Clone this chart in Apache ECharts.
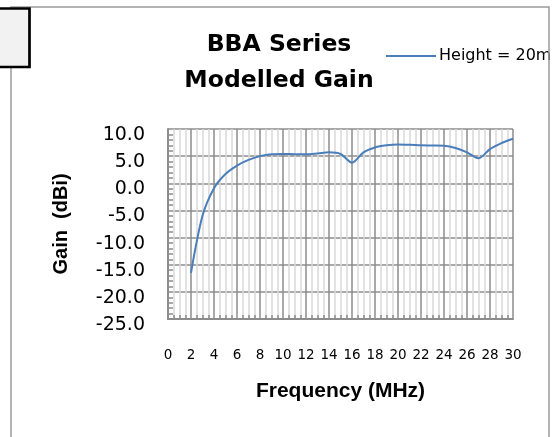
<!DOCTYPE html>
<html>
<head>
<meta charset="utf-8">
<script src="https://cdn.jsdelivr.net/npm/echarts@6/dist/echarts.min.js"></script>
<style>
html,body{margin:0;padding:0;background:#fff;}
#c{width:553px;height:437px;}
</style>
</head>
<body>
<div id="c"></div>
<script>
const titleLines = ['BBA Series', 'Modelled Gain'];
const seriesName = 'Height = 20m';
const xTitle = 'Frequency (MHz)';
const yTitle = 'Gain  (dBi)';
const xTicks = [0,2,4,6,8,10,12,14,16,18,20,22,24,26,28,30];
const yTicks = [-25,-20,-15,-10,-5,0,5,10];
const freqs = [2,3,4,5,6,7,8,9,10,11,12,13,14,15,16,17,18,19,20,21,22,23,24,25,26,27,28,29,30];
const gain = [-16.5,-6.0,-0.9,1.7,3.25,4.3,5.0,5.35,5.4,5.35,5.35,5.5,5.7,5.4,3.8,5.7,6.6,7.0,7.15,7.1,7.0,6.95,6.9,6.5,5.7,4.6,6.3,7.4,8.2];

const chart = echarts.init(document.getElementById('c'), null, {renderer:'canvas'});
const majorGrid = '#8c8c8c';
chart.setOption({
  animation:false,
  backgroundColor:'#ffffff',
  title:{
    text:titleLines.join('\n'),
    left:274, top:22, textAlign:'center',
    textStyle:{fontFamily:'DejaVu Sans', fontWeight:'bold', fontSize:23.5, lineHeight:36, color:'#000'}
  },
  legend:{
    data:[{name:seriesName, icon:'rect'}],
    left:381, top:43, itemGap:0,
    itemWidth:50, itemHeight:2,
    textStyle:{fontFamily:'DejaVu Sans', fontSize:16, color:'#000', padding:[0,0,0,-2]}
  },
  grid:{left:168, top:129, right:40, bottom:118},
  xAxis:{
    type:'value', min:xTicks[0], max:xTicks[xTicks.length-1], interval:xTicks[1]-xTicks[0],
    name:xTitle, nameLocation:'middle', nameGap:62,
    nameTextStyle:{fontFamily:'Liberation Sans', fontWeight:'bold', fontSize:21, color:'#000'},
    axisLine:{show:true, onZero:false, lineStyle:{color:majorGrid, width:2}},
    axisTick:{show:false, inside:true},
    minorTick:{show:true, splitNumber:4, length:4, lineStyle:{color:majorGrid, width:1.5}},
    axisLabel:{margin:29, fontFamily:'DejaVu Sans', fontSize:13.5, color:'#000'},
    splitLine:{show:true, lineStyle:{color:majorGrid, width:1.5}},
    minorSplitLine:{show:true, lineStyle:{color:'#d9d9d9', width:1.5}}
  },
  yAxis:{
    type:'value', min:yTicks[0], max:yTicks[yTicks.length-1], interval:yTicks[1]-yTicks[0],
    name:yTitle, nameLocation:'middle', nameGap:97, nameRotate:90,
    nameTextStyle:{fontFamily:'Liberation Sans', fontWeight:'bold', fontSize:20, color:'#000'},
    axisLine:{show:true, onZero:false, lineStyle:{color:majorGrid, width:2}},
    axisTick:{show:false, inside:true},
    minorTick:{show:true, splitNumber:5, length:5, lineStyle:{color:majorGrid, width:1.5}},
    axisLabel:{margin:23, fontFamily:'DejaVu Sans', fontSize:19, color:'#000', verticalAlign:'top', lineHeight:12,
      formatter:function(v){return v.toFixed(1);}},
    splitLine:{show:true, lineStyle:{color:majorGrid, width:1.5}}
  },
  series:[{
    name:seriesName, type:'line', smooth:0.3, showSymbol:false,
    data:freqs.map(function(f,i){return [f, gain[i]];}),
    lineStyle:{color:'#4a7ebb', width:2},
    itemStyle:{color:'#4a7ebb'}
  }],
  graphic:[
    {type:'polyline', shape:{points:[[11,437],[11,7],[549,7],[549,437]]}, style:{stroke:'#9a9a9a', lineWidth:1.5, fill:null}, z:100},
    {type:'rect', shape:{x:-5, y:8.5, width:34.5, height:58.5}, style:{fill:'#f2f2f2', stroke:'#000', lineWidth:2.7}, z:101},
    {type:'rect', shape:{x:550, y:0, width:10, height:437}, style:{fill:'#fff'}, z:99}
  ]
});
</script>
</body>
</html>
